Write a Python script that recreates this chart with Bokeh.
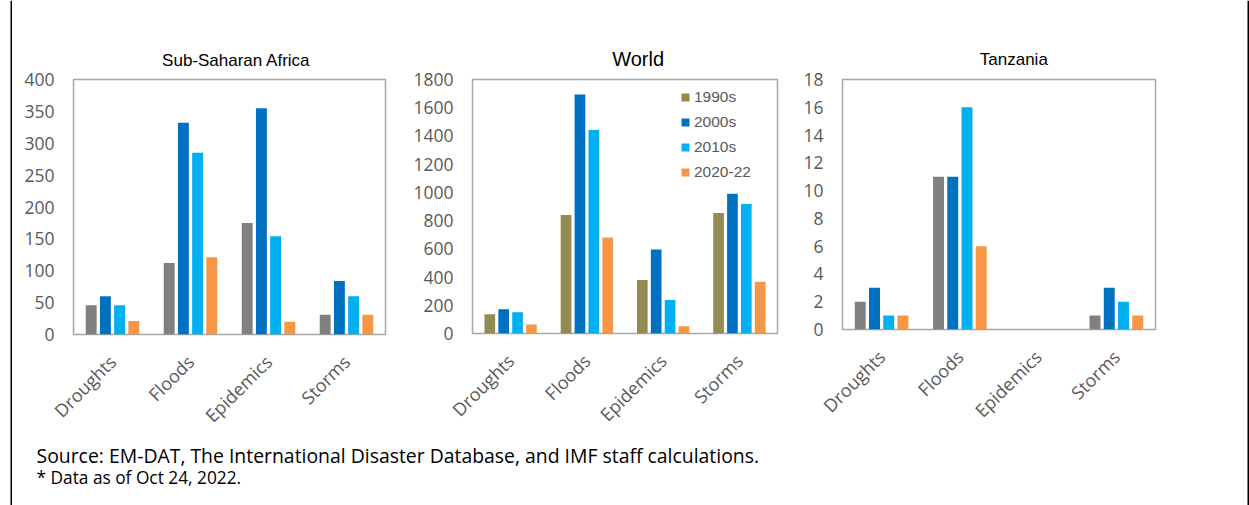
import math

from bokeh.embed import file_html
from bokeh.layouts import column, row
from bokeh.models import (ColumnDataSource, FactorRange, FixedTicker, Label,
                          Legend, LegendItem, Range1d, Span, Title)
from bokeh.plotting import figure
from bokeh.resources import INLINE
from bokeh.transform import dodge

# ---------------------------------------------------------------- data
hazards = ["Droughts", "Floods", "Epidemics", "Storms"]
decades = ["1990s", "2000s", "2010s", "2020-22"]

ssa_1990s = [46, 112, 175, 31]
ssa_2000s = [60, 332, 355, 84]
ssa_2010s = [46, 285, 154, 60]
ssa_2020s = [21, 121, 20, 31]

world_1990s = [136, 840, 380, 854]
world_2000s = [171, 1694, 596, 990]
world_2010s = [150, 1443, 237, 918]
world_2020s = [63, 681, 52, 366]

tza_1990s = [2, 11, 0, 1]
tza_2000s = [3, 11, 0, 3]
tza_2010s = [1, 16, 0, 2]
tza_2020s = [1, 6, 0, 1]

ssa_ticks = [0, 50, 100, 150, 200, 250, 300, 350, 400]
world_ticks = [0, 200, 400, 600, 800, 1000, 1200, 1400, 1600, 1800]
tza_ticks = [0, 2, 4, 6, 8, 10, 12, 14, 16, 18]

source_note = "Source: EM-DAT, The International Disaster Database, and IMF staff calculations."
date_note = "* Data as of Oct 24, 2022."

# ---------------------------------------------------------------- style
GRAY, OLIVE = "#808080", "#948A54"
BLUE, LIGHT, ORANGE = "#0070C0", "#00B0F0", "#F79646"
TICK_COLOR = "#595959"
TICK_FONT = "Open Sans"
HEAD_FONT = "Liberation Sans"
OFFSETS = [-0.273, -0.091, 0.091, 0.273]
BAR_W = 0.14
INNER_W = 1233          # width between the two vertical rules
TOP, BOTTOM = 79, 106   # borders around each panel frame


def panel(series, colors, ticks, width, left, right, frame_h,
          title, title_offset, title_size, title_standoff):
    p = figure(x_range=FactorRange(*hazards),
               y_range=Range1d(ticks[0], ticks[-1]),
               width=width, height=TOP + frame_h + BOTTOM,
               output_backend="svg", toolbar_location=None,
               min_border_left=left, min_border_right=right,
               min_border_top=TOP, min_border_bottom=BOTTOM)
    p.title = Title(text=title, align="left", offset=title_offset,
                    vertical_align="bottom", standoff=title_standoff,
                    text_font=HEAD_FONT, text_font_size=title_size,
                    text_font_style="normal", text_color="black")

    data = {"hazard": hazards}
    for d, vals in zip(decades, series):
        data[d] = vals
    src = ColumnDataSource(data)
    renderers = []
    for d, off, c in zip(decades, OFFSETS, colors):
        r = p.vbar(x=dodge("hazard", off, range=p.x_range), top=d, width=BAR_W,
                   source=src, fill_color=c, line_color=None)
        renderers.append(r)

    p.xgrid.visible = False
    p.ygrid.visible = False
    p.outline_line_color = "#A6A6A6"
    p.outline_line_width = 1.5

    for ax in (p.xaxis, p.yaxis):
        ax.axis_line_color = None
        ax.major_tick_line_color = None
        ax.minor_tick_line_color = None
        ax.major_tick_out = 0
        ax.major_tick_in = 0
        ax.minor_tick_out = 0
        ax.major_label_text_font = TICK_FONT
        ax.major_label_text_color = TICK_COLOR
    p.yaxis.ticker = FixedTicker(ticks=ticks)
    p.yaxis.major_label_text_font_size = "17.5px"
    p.yaxis.major_label_standoff = 19
    p.xaxis.major_label_orientation = math.pi / 4
    p.xaxis.major_label_text_font_size = "18px"
    p.xaxis.major_label_standoff = 24
    return p, renderers


p1, _ = panel([ssa_1990s, ssa_2000s, ssa_2010s, ssa_2020s],
              [GRAY, BLUE, LIGHT, ORANGE], ssa_ticks,
              width=398, left=61, right=25, frame_h=255,
              title="Sub-Saharan Africa", title_offset=88.6,
              title_size="17px", title_standoff=19)

p2, world_bars = panel([world_1990s, world_2000s, world_2010s, world_2020s],
                       [OLIVE, BLUE, LIGHT, ORANGE], world_ticks,
                       width=390, left=60, right=23, frame_h=254,
                       title="World", title_offset=139.7,
                       title_size="20px", title_standoff=19)

p3, _ = panel([tza_1990s, tza_2000s, tza_2010s, tza_2020s],
              [GRAY, BLUE, LIGHT, ORANGE], tza_ticks,
              width=445, left=41, right=90, frame_h=250,
              title="Tanzania", title_offset=137.3,
              title_size="17px", title_standoff=21)

legend = Legend(items=[LegendItem(label=d, renderers=[r])
                       for d, r in zip(decades, world_bars)],
                location=(208, 150), orientation="vertical",
                glyph_width=10, glyph_height=10, label_standoff=4,
                padding=0, spacing=3, label_height=22, margin=0,
                border_line_color=None, background_fill_alpha=0,
                label_text_font=HEAD_FONT, label_text_font_size="15.5px",
                label_text_color=TICK_COLOR)
p2.add_layout(legend)

# ---------------------------------------------------------------- notes
row_h = max(p.height for p in (p1, p2, p3))
foot_h = 505 - row_h
foot = figure(width=INNER_W, height=foot_h, x_range=Range1d(0, INNER_W),
              y_range=Range1d(0, foot_h), min_border=0,
              x_axis_location=None, y_axis_location=None,
              output_backend="svg", toolbar_location=None)
foot.outline_line_color = None
foot.grid.visible = False
foot.add_layout(Label(x=24, y=50.5, text=source_note,
                      text_font=TICK_FONT, text_font_size="19.4px",
                      text_color="black", text_baseline="middle"))
foot.add_layout(Label(x=24, y=28, text=date_note,
                      text_font=TICK_FONT, text_font_size="17.3px",
                      text_color="black", text_baseline="middle"))


# ---------------------------------------------------------------- frame rules
def rule_strip(width, at):
    s = figure(width=width, height=505, x_range=Range1d(0, width),
               y_range=Range1d(0, 505), min_border=0,
               x_axis_location=None, y_axis_location=None,
               output_backend="svg", toolbar_location=None)
    s.outline_line_color = None
    s.grid.visible = False
    s.add_layout(Span(location=at, dimension="height",
                      line_color="black", line_width=2))
    return s


layout = row(rule_strip(12, 11),
             column(row(p1, p2, p3), foot),
             rule_strip(4, 3))

open("out.html", "w").write(file_html(layout, INLINE))
